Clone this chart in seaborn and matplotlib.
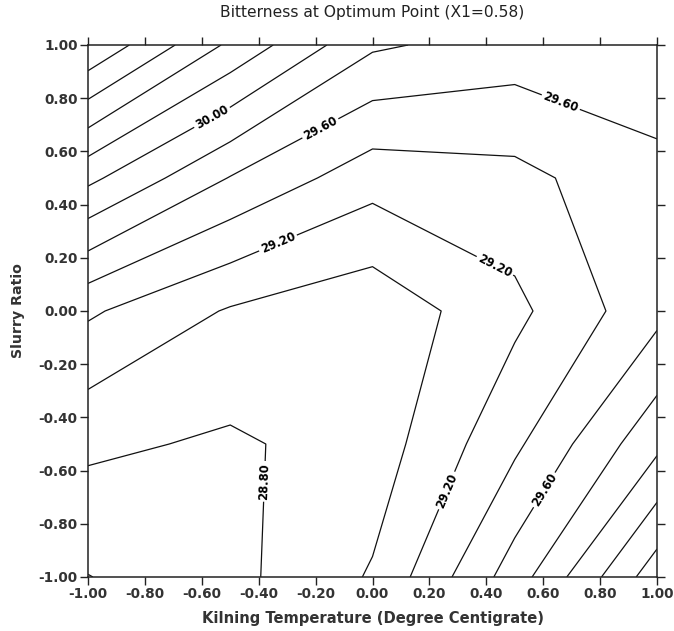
import numpy as np
import pandas as pd
import seaborn as sns
import matplotlib
matplotlib.use("Agg")
import matplotlib.pyplot as plt

# ---- data ----
kilning_temp = [-1.0, -0.5, 0.0, 0.5, 1.0]      # x grid
slurry_ratio = [-1.0, -0.5, 0.0, 0.5, 1.0]      # y grid
bitter_y_m100 = [28.595, 28.74, 29.02, 29.70, 30.52]
bitter_y_m050 = [28.84, 28.77, 28.89, 29.36, 29.95]
bitter_y_000 = [29.23, 28.98, 28.86, 29.15, 29.54]
bitter_y_050 = [30.05, 29.59, 29.28, 29.34, 29.55]
bitter_y_100 = [30.98, 30.36, 29.83, 29.71, 29.72]
contour_levels = [28.6, 28.8, 29.0, 29.2, 29.4, 29.6, 29.8, 30.0, 30.2, 30.4, 30.6, 30.8]
tick_values = [-1.0, -0.8, -0.6, -0.4, -0.2, 0.0, 0.2, 0.4, 0.6, 0.8, 1.0]

# label anchor spots (layout only; each lies on the labelled contour)
label_spots = [(-0.56, 0.72), (-0.18, 0.68), (-0.33, 0.25), (0.44, 0.19),
               (0.66, 0.78), (-0.39, -0.64), (0.25, -0.67), (0.60, -0.67)]

df = pd.DataFrame([bitter_y_m100, bitter_y_m050, bitter_y_000, bitter_y_050, bitter_y_100],
                  index=slurry_ratio, columns=kilning_temp)

sns.set_theme(style="ticks")
plt.rcParams['font.family'] = ['DejaVu Sans']

fig = plt.figure(figsize=(6.74, 6.31), dpi=100)
ax = fig.add_axes([88/674, 1-577/631, (657-88)/674, (577-45)/631])

X, Y = np.meshgrid(df.columns.values, df.index.values)
cs = ax.contour(X, Y, df.values, levels=contour_levels, colors='#111111', linewidths=0.9)
ax.clabel(cs, fmt='%.2f', fontsize=8.3, inline=True,
          manual=label_spots, inline_spacing=4)
for t in cs.labelTexts:
    t.set_fontweight('bold')
    t.set_color('black')

ax.set_xlim(-1, 1)
ax.set_ylim(-1, 1)
ax.set_xticks(tick_values)
ax.set_yticks(tick_values)
ax.set_xticklabels([f"{v:.2f}" for v in tick_values])
ax.set_yticklabels([f"{v:.2f}" for v in tick_values])
ax.tick_params(axis='both', which='both', direction='out', length=6, width=1,
               colors='#222222', labelsize=9.8, top=True, right=True, pad=1.5)
for lbl in ax.get_xticklabels() + ax.get_yticklabels():
    lbl.set_fontweight('bold')
    lbl.set_color('#333333')
for sp in ax.spines.values():
    sp.set_visible(True)
    sp.set_linewidth(1.1)
    sp.set_color('#222222')

fig.text(372.5/674, 1-13/631, "Bitterness at Optimum Point (X1=0.58)",
         fontsize=11.2, color='#222222', ha='center', va='center')
ax.set_xlabel("Kilning Temperature (Degree Centigrate)", fontsize=10.6, fontweight='bold',
              color='#333333')
ax.set_ylabel("Slurry Ratio", fontsize=10.2, fontweight='bold', color='#333333')
ax.xaxis.set_label_coords(0.5, (577-618)/532)
ax.yaxis.set_label_coords((18-88)/569, 0.5)
ax.xaxis.label.set_va('center')
ax.yaxis.label.set_va('center')

fig.savefig("out.png", dpi=100, facecolor='white')
